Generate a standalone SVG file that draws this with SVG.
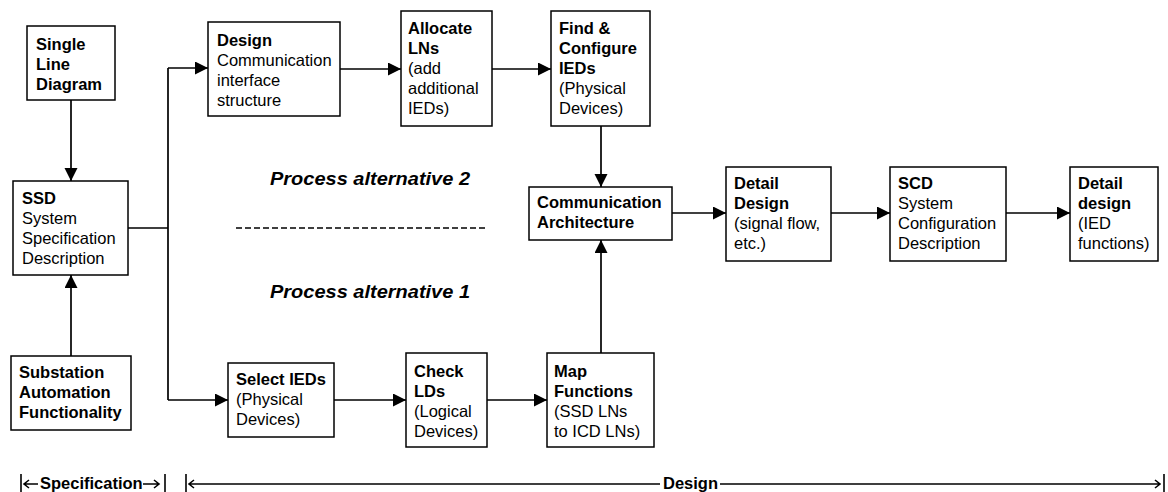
<svg xmlns="http://www.w3.org/2000/svg" width="1168" height="492" viewBox="0 0 1168 492">
<style>
.box{fill:#fff;stroke:#000;stroke-width:1.5}
text{font-family:"Liberation Sans",Arial,sans-serif;font-size:16.5px;fill:#000}
.b{font-weight:bold}
.c{fill:none;stroke:#000;stroke-width:1.7}
.pa{font-weight:bold;font-style:italic;font-size:18px}
.dim{fill:none;stroke:#000;stroke-width:1.6}
</style>
<defs>
<marker id="ah" markerUnits="userSpaceOnUse" markerWidth="14" markerHeight="14" refX="13" refY="6.5" orient="auto">
<path d="M0,0 L13,6.5 L0,13 z" fill="#000"/>
</marker>
</defs>
<rect width="1168" height="492" fill="#fff"/>
<g id="connectors">
<path class="c" d="M71,100 V181" marker-end="url(#ah)"/>
<path class="c" d="M71,356 V275" marker-end="url(#ah)"/>
<path class="c" d="M128,228 H168 M168,68 V400"/>
<path class="c" d="M168,68 H208" marker-end="url(#ah)"/>
<path class="c" d="M168,400 H228" marker-end="url(#ah)"/>
<path class="c" d="M340,69 H401" marker-end="url(#ah)"/>
<path class="c" d="M492,69 H551" marker-end="url(#ah)"/>
<path class="c" d="M601,126 V187" marker-end="url(#ah)"/>
<path class="c" d="M601,353 V240" marker-end="url(#ah)"/>
<path class="c" d="M334,400 H406" marker-end="url(#ah)"/>
<path class="c" d="M487,400 H547" marker-end="url(#ah)"/>
<path class="c" d="M672,213 H726" marker-end="url(#ah)"/>
<path class="c" d="M831,213 H890" marker-end="url(#ah)"/>
<path class="c" d="M1006,213 H1070" marker-end="url(#ah)"/>
</g>
<g id="sld">
<rect class="box" x="27" y="26" width="88" height="74"/>
<text class="b" x="36" y="50">Single</text>
<text class="b" x="36" y="70">Line</text>
<text class="b" x="36" y="90">Diagram</text>
</g>
<g id="ssd">
<rect class="box" x="13" y="181" width="115" height="94"/>
<text class="b" x="22" y="204">SSD</text>
<text x="22" y="224">System</text>
<text x="22" y="244">Specification</text>
<text x="22" y="264">Description</text>
</g>
<g id="saf">
<rect class="box" x="11" y="356" width="120" height="74"/>
<text class="b" x="19" y="378">Substation</text>
<text class="b" x="19" y="398">Automation</text>
<text class="b" x="19" y="418">Functionality</text>
</g>
<g id="design">
<rect class="box" x="208" y="22" width="132" height="94"/>
<text class="b" x="217" y="46">Design</text>
<text x="217" y="66">Communication</text>
<text x="217" y="86">interface</text>
<text x="217" y="106">structure</text>
</g>
<g id="allocate">
<rect class="box" x="401" y="11" width="91" height="115"/>
<text class="b" x="408" y="34">Allocate</text>
<text class="b" x="408" y="54">LNs</text>
<text x="408" y="74">(add</text>
<text x="408" y="94">additional</text>
<text x="408" y="114">IEDs)</text>
</g>
<g id="find">
<rect class="box" x="551" y="11" width="99" height="115"/>
<text class="b" x="559" y="34">Find &amp;</text>
<text class="b" x="559" y="54">Configure</text>
<text class="b" x="559" y="74">IEDs</text>
<text x="559" y="94">(Physical</text>
<text x="559" y="114">Devices)</text>
</g>
<g id="comm">
<rect class="box" x="529" y="187" width="143" height="53"/>
<text class="b" x="537" y="208">Communication</text>
<text class="b" x="537" y="228">Architecture</text>
</g>
<g id="select">
<rect class="box" x="228" y="363" width="106" height="74"/>
<text class="b" x="236" y="385">Select IEDs</text>
<text x="236" y="405">(Physical</text>
<text x="236" y="425">Devices)</text>
</g>
<g id="check">
<rect class="box" x="406" y="353" width="81" height="94"/>
<text class="b" x="414" y="377">Check</text>
<text class="b" x="414" y="397">LDs</text>
<text x="414" y="417">(Logical</text>
<text x="414" y="437">Devices)</text>
</g>
<g id="map">
<rect class="box" x="547" y="353" width="107" height="94"/>
<text class="b" x="554" y="377">Map</text>
<text class="b" x="554" y="397">Functions</text>
<text x="554" y="417">(SSD LNs</text>
<text x="554" y="437">to ICD LNs)</text>
</g>
<g id="detail1">
<rect class="box" x="726" y="167" width="105" height="94"/>
<text class="b" x="734" y="189">Detail</text>
<text class="b" x="734" y="209">Design</text>
<text x="734" y="229">(signal flow,</text>
<text x="734" y="249">etc.)</text>
</g>
<g id="scd">
<rect class="box" x="890" y="167" width="116" height="94"/>
<text class="b" x="898" y="189">SCD</text>
<text x="898" y="209">System</text>
<text x="898" y="229">Configuration</text>
<text x="898" y="249">Description</text>
</g>
<g id="detail2">
<rect class="box" x="1070" y="167" width="88" height="94"/>
<text class="b" x="1078" y="189">Detail</text>
<text class="b" x="1078" y="209">design</text>
<text x="1078" y="229">(IED</text>
<text x="1078" y="249">functions)</text>
</g>
<g id="alternatives">
<text class="pa" x="270" y="185" textLength="200" lengthAdjust="spacingAndGlyphs">Process alternative 2</text>
<line x1="236" y1="228" x2="488" y2="228" stroke="#000" stroke-width="1.5" stroke-dasharray="6 3"/>
<text class="pa" x="270" y="298" textLength="200" lengthAdjust="spacingAndGlyphs">Process alternative 1</text>
</g>
<g id="phases">
<line class="dim" x1="21" y1="474" x2="21" y2="492"/>
<path class="dim" d="M24,484 H38 M29,480 L24,484 L29,488"/>
<text class="b" x="40" y="489" font-size="16">Specification</text>
<path class="dim" d="M143,484 H159 M154,480 L159,484 L154,488"/>
<line class="dim" x1="165" y1="474" x2="165" y2="492"/>
<line class="dim" x1="186" y1="474" x2="186" y2="492"/>
<path class="dim" d="M189,484 H660 M194,480 L189,484 L194,488"/>
<text class="b" x="663" y="489" font-size="16">Design</text>
<path class="dim" d="M720,484 H1160 M1155,480 L1160,484 L1155,488"/>
<line class="dim" x1="1164" y1="474" x2="1164" y2="492"/>
</g>
</svg>
